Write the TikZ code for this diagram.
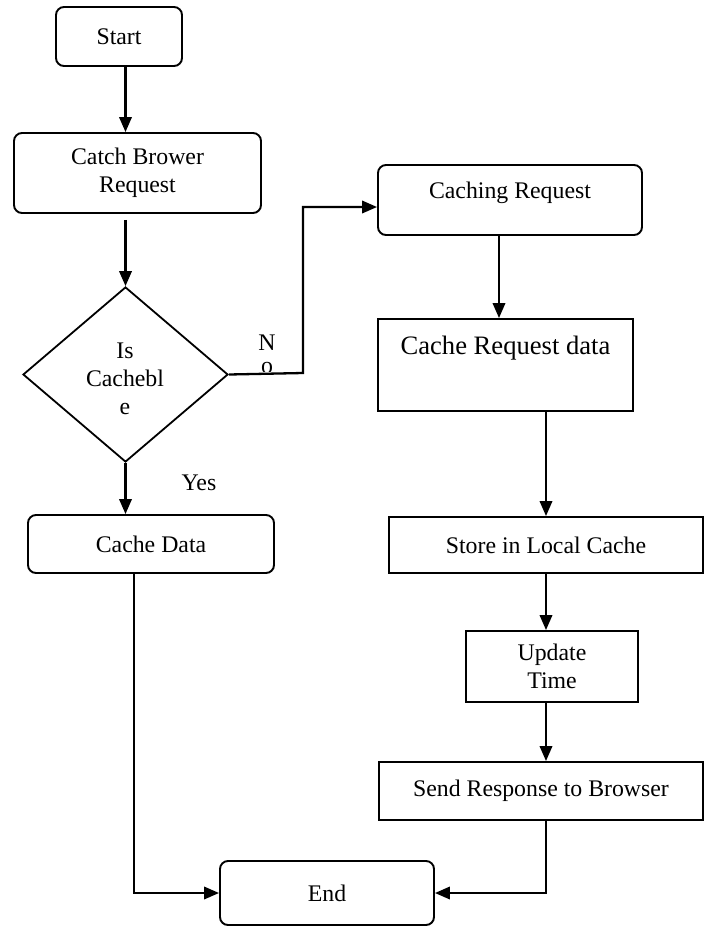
\documentclass[tikz,border=0pt]{standalone}
\usepackage{fontspec}
\setmainfont{Liberation Serif}
\usetikzlibrary{shapes.geometric,arrows.meta}

\tikzset{
  txt/.style={font=\fontsize{11.9pt}{14pt}\selectfont, align=center, inner sep=0pt},
  rbox/.style={txt, draw, line width=0.95pt, rounded corners=4pt, minimum width=#1},
  sbox/.style={txt, draw, line width=0.95pt, minimum width=#1},
  decision/.style={draw, line width=0.9pt, shape=diamond, inner sep=0pt,
    minimum width=102.5pt, minimum height=87.5pt},
  arr/.style={line width=1.15pt, -{Triangle[length=7.5pt,width=6.2pt]}},
}

\begin{document}
\begin{tikzpicture}[x=0.5pt,y=-0.5pt]
\useasboundingbox (0,0) rectangle (705,927);

% left column
\node[rbox=63pt, minimum height=29.5pt] (start) at (119,36.5) {Start};
\node[rbox=123.5pt, minimum height=40pt] (catch) at (137.5,173) {Catch Brower\\Request};
\node[decision] (dec) at (125.5,374.5) {};
\node[txt] (dectext) at (125,379) {Is\\Cachebl\\e};
\node[rbox=123pt, minimum height=29pt] (cdata) at (151,544) {Cache Data};
\node[rbox=107pt, minimum height=32pt] (end) at (327,893) {End};

% right column
\node[rbox=132pt, minimum height=35pt,
  label={[txt, yshift=3.5pt]center:Caching Request}] (creq) at (510,200) {};
\node[sbox=127.5pt, minimum height=46pt,
  label={[txt, font=\fontsize{13.3pt}{15pt}\selectfont, yshift=8.5pt]center:Cache Request data}] (crd) at (505.5,365) {};
\node[sbox=157pt, minimum height=28pt] (store) at (546,545) {Store in Local Cache};
\node[sbox=86pt, minimum height=35.5pt] (upd) at (552,666.5) {Update\\Time};
\node[sbox=162pt, minimum height=29pt] (send) at (541,791) {Send Response to Browser};

% branch labels
\node[txt] (yeslbl) at (199,483) {Yes};
\node[txt] (nolbl) at (267,343) {N};
\begin{scope}
  \clip (250,355) rectangle (290,371);
  \node[txt] (nolbl2) at (267,368) {o};
\end{scope}

% connectors
\coordinate (nobend) at (303,373);
\draw[arr] (start.south -| dec.north) -- (catch.north -| dec.north);
\draw[arr, shorten <=3pt] (catch.south -| dec.north) -- (dec.north);
\draw[arr] (dec.south) -- (cdata.north -| dec.south);
\draw[arr] (dec.east) -- (nobend) |- ([yshift=-3.5pt]creq.west);
\draw[arr] ([xshift=-5.5pt]creq.south) -- ([xshift=-5.5pt]creq.south |- crd.north);
\draw[arr] (crd.south -| store.north) -- (store.north);
\draw[arr] (store.south) -- (store.south |- upd.north);
\draw[arr] (upd.south -| store.south) -- (send.north -| store.south);
\draw[arr] ([xshift=-8.5pt]cdata.south) |- (end.west);
\draw[arr] ([xshift=2.5pt]send.south) |- (end.east);
\end{tikzpicture}
\end{document}
